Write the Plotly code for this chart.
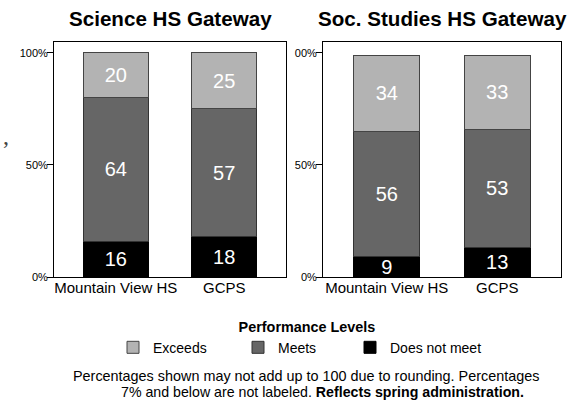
import plotly.graph_objects as go

# ---- data ----
categories = ["Mountain View HS", "GCPS"]
science_does_not_meet = [16, 18]
science_meets = [64, 57]
science_exceeds = [20, 25]
socstudies_does_not_meet = [9, 13]
socstudies_meets = [56, 53]
socstudies_exceeds = [34, 33]
level_names = ["Does not meet", "Meets", "Exceeds"]
panel_titles = ["Science HS Gateway", "Soc. Studies HS Gateway"]
ytick_vals = [0, 50, 100]
left_ytick_text = ["0%", "50%", "100%"]
right_ytick_text = ["0%", "50%", "00%"]
legend_title = "Performance Levels"
footnote_1 = "Percentages shown may not add up to 100 due to rounding. Percentages"
footnote_2 = "7% and below are not labeled. <b>Reflects spring administration.</b>"
label_min = 7

# ---- styles ----
W, H = 584, 402
level_colors = {"Does not meet": "#000000", "Meets": "#666666", "Exceeds": "#b3b3b3"}
level_lines = {"Does not meet": "#000000", "Meets": "#333333", "Exceeds": "#444444"}
legend_widths = {"Exceeds": 80, "Meets": 67, "Does not meet": 106}
FONT = "Liberation Sans, Arial, Helvetica, sans-serif"


def px_x(p):
    return p / W


def px_y(p):
    return 1 - p / H


panels = [
    (science_does_not_meet, science_meets, science_exceeds),
    (socstudies_does_not_meet, socstudies_meets, socstudies_exceeds),
]

fig = go.Figure()
for i, series in enumerate(panels):
    ax = "" if i == 0 else "2"
    for name, vals in zip(level_names, series):
        fig.add_trace(go.Bar(
            x=categories,
            y=vals,
            name=name,
            legendgroup=name,
            legendwidth=legend_widths[name],
            showlegend=(i == 0),
            marker=dict(color=level_colors[name],
                        line=dict(color=level_lines[name], width=1)),
            text=[str(v) if v > label_min else "" for v in vals],
            textposition="inside",
            insidetextanchor="middle",
            textangle=0,
            textfont=dict(color="white", size=20, family=FONT),
            width=0.595,
            xaxis="x" + ax,
            yaxis="y" + ax,
            hovertemplate="%{x}: %{y}%<extra>" + name + "</extra>",
        ))

axis_common = dict(showline=True, linecolor="black", linewidth=1, mirror=True,
                   showgrid=False, zeroline=False)
xaxis_common = dict(ticks="", tickfont=dict(size=15), ticklabelstandoff=-3, **axis_common)
yaxis_common = dict(tickvals=ytick_vals, ticks="outside", ticklen=6, tickcolor="black",
                    ticklabelstandoff=-3, tickfont=dict(size=11), range=[0, 104.8],
                    domain=[px_y(277), px_y(42)], **axis_common)

fig.update_layout(
    width=W, height=H,
    margin=dict(l=0, r=0, t=0, b=0, autoexpand=False),
    paper_bgcolor="white", plot_bgcolor="white",
    barmode="stack",
    font=dict(family=FONT, color="black"),
    uniformtext=dict(minsize=20, mode="show"),
    xaxis=dict(domain=[px_x(54), px_x(286)], range=[-0.57, 1.57], anchor="y",
               **xaxis_common),
    yaxis=dict(anchor="x", ticktext=left_ytick_text, **yaxis_common),
    xaxis2=dict(domain=[px_x(323), px_x(561)], range=[-0.577, 1.577], anchor="y2",
                **xaxis_common),
    yaxis2=dict(anchor="x2", ticktext=right_ytick_text, **yaxis_common),
    legend=dict(
        orientation="h", x=px_x(113), xanchor="left", y=px_y(313), yanchor="top",
        traceorder="reversed",
        title=dict(text="<b>" + legend_title + "</b>", side="top center",
                   font=dict(size=14.4)),
        font=dict(size=14),
        itemwidth=30,
        bgcolor="rgba(0,0,0,0)",
    ),
    annotations=[
        dict(text="<b>" + panel_titles[0] + "</b>", x=px_x(170), y=px_y(18),
             xanchor="center", yanchor="middle",
             xref="paper", yref="paper", showarrow=False, font=dict(size=20.6)),
        dict(text="<b>" + panel_titles[1] + "</b>", x=px_x(442), y=px_y(18),
             xanchor="center", yanchor="middle",
             xref="paper", yref="paper", showarrow=False, font=dict(size=20.6)),
        dict(text=footnote_1, x=px_x(306), y=px_y(376), xanchor="center", yanchor="middle",
             xref="paper", yref="paper", showarrow=False, font=dict(size=14.4)),
        dict(text=footnote_2, x=px_x(322), y=px_y(392), xanchor="center", yanchor="middle",
             xref="paper", yref="paper", showarrow=False, font=dict(size=14.2)),
        dict(text=",", x=px_x(6), y=px_y(136), xanchor="center", yanchor="middle",
             xref="paper", yref="paper", showarrow=False,
             font=dict(size=24, family="Liberation Serif, serif", color="#444")),
    ],
)

fig.write_html("out.html", config={"displayModeBar": False},
               post_script="document.body.style.margin='0px';")
